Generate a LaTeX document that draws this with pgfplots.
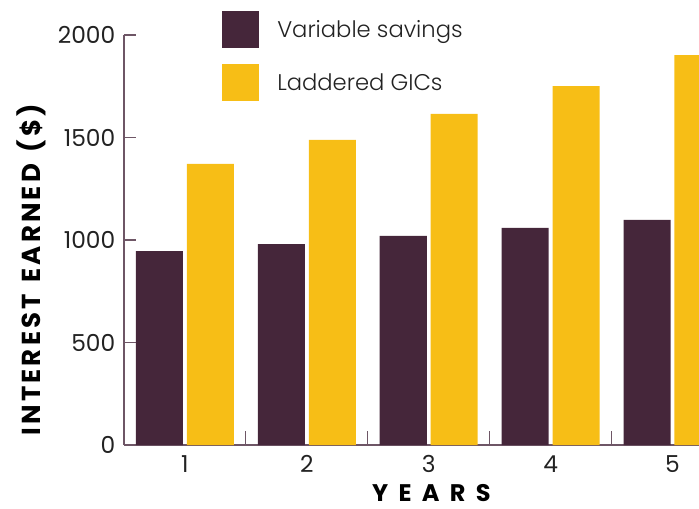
\documentclass[border=0pt]{standalone}
\usepackage{fontspec}
\setmainfont{Poppins}
\newfontfamily\lightfont{Poppins Light}
\newfontfamily\ylabfont{Poppins}[LetterSpace=12]
\newfontfamily\xlabfont{Poppins}[LetterSpace=43]
\usepackage{pgfplots}
\pgfplotsset{compat=1.18}
\definecolor{plum}{HTML}{45263A}
\definecolor{gold}{HTML}{F7BE16}
\definecolor{axiscol}{HTML}{6E5666}
\definecolor{txt}{HTML}{222222}
\pgfplotsset{sq legend/.style={legend image code/.code={\fill[##1] (0pt,-7.9pt) rectangle (27.75pt,19.85pt);}}}
\begin{document}
\begin{tikzpicture}
\begin{axis}[
  scale only axis, width=457.1pt, height=307.5pt,
  xmin=0.5, xmax=5.5, ymin=0, ymax=2000,
  axis x line*=bottom, axis y line*=left,
  axis line style={axiscol, line width=0.9pt},
  tick align=inside,
  ytick={0,500,1000,1500,2000},
  y tick style={axiscol, line width=0.9pt},
  major tick length=9pt,
  xtick={1,2,3,4,5},
  major x tick style={draw=none},
  minor xtick={1.5,2.5,3.5,4.5},
  minor x tick style={axiscol, line width=0.9pt},
  minor tick length=10.5pt,
  tick label style={font=\fontsize{17.5}{20}\selectfont, text=txt},
  yticklabel style={xshift=-3pt},
  xticklabel style={yshift=-4.5pt},
  /pgf/number format/assume math mode=true,
  /pgf/number format/1000 sep={},
  xlabel={\xlabfont\bfseries YEARS},
  ylabel={\ylabfont\bfseries\mbox{INTEREST}\kern9pt\mbox{EARNED}\kern9pt\mbox{(\$)}},
  xlabel style={font=\fontsize{18}{20}\selectfont, text=black, at={(axis description cs:0.5045,-0.117)}, anchor=center},
  ylabel style={font=\fontsize{19.5}{22}\selectfont, text=black, at={(axis description cs:-0.1526,0.428)}, anchor=center},
  legend style={draw=none, fill=none, at={(0.1608,1.0585)}, anchor=north west,
    inner sep=0pt, row sep=12pt, font=\lightfont\fontsize{17}{20}\selectfont, text=txt,
    nodes={inner sep=0pt, anchor=base west},
    /tikz/every odd column/.append style={column sep=13.5pt}},
  legend cell align=left,
]
\addplot[ybar, fill=plum, draw=none, bar width=0.386, bar shift=-0.209, sq legend]
  coordinates {(1,946) (2,980) (3,1020) (4,1059) (5,1098)};
\addlegendentry{Variable savings}
\addplot[ybar, fill=gold, draw=none, bar width=0.386, bar shift=0.209, sq legend]
  coordinates {(1,1371) (2,1488) (3,1615) (4,1751) (5,1902)};
\addlegendentry{Laddered GICs}
\end{axis}
\pgfresetboundingbox
\path[use as bounding box] (-93pt,-47.25pt) rectangle (431.25pt,333.75pt);
\end{tikzpicture}
\end{document}
